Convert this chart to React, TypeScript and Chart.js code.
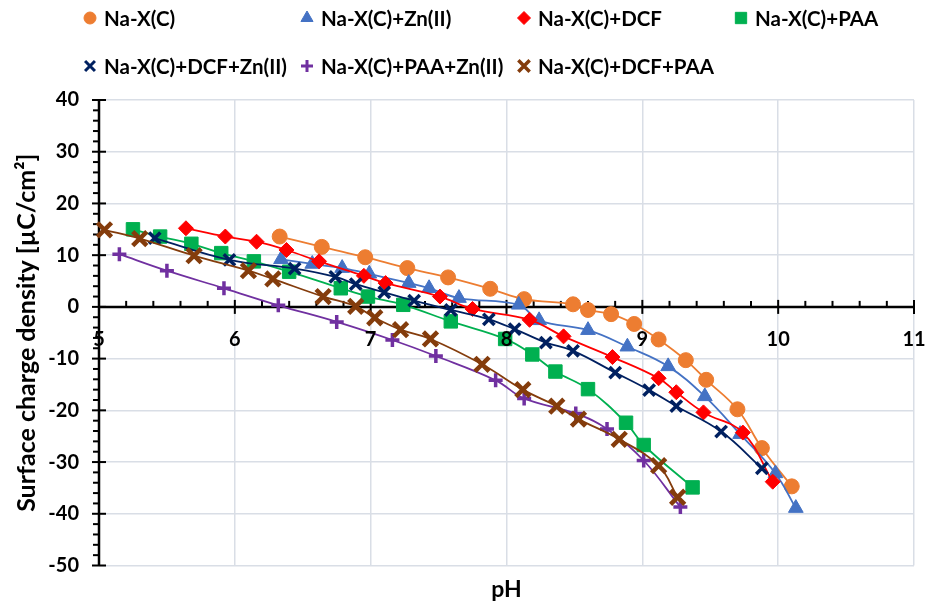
import { useEffect, useRef } from 'react';
import { Chart, registerables } from 'chart.js';
import { drawPoint } from 'chart.js/helpers';

Chart.register(...registerables);

const FONT = 'Lato, "Liberation Sans", sans-serif';

// Series names
const seriesLabels = [
  'Na-X(C)',
  'Na-X(C)+Zn(II)',
  'Na-X(C)+DCF',
  'Na-X(C)+PAA',
  'Na-X(C)+DCF+Zn(II)',
  'Na-X(C)+PAA+Zn(II)',
  'Na-X(C)+DCF+PAA',
];

// pH values and surface charge density (µC/cm²) of each series
const phNaX = [6.33, 6.64, 6.96, 7.27, 7.57, 7.88, 8.13, 8.49, 8.6, 8.77, 8.94, 9.12, 9.32, 9.47, 9.7, 9.88, 10.1];
const sigmaNaX = [13.6, 11.6, 9.6, 7.5, 5.7, 3.5, 1.5, 0.5, -0.6, -1.4, -3.3, -6.3, -10.3, -14.1, -19.8, -27.3, -34.7];

const phZn = [6.34, 6.57, 6.79, 6.99, 7.28, 7.43, 7.65, 8.09, 8.24, 8.6, 8.89, 9.19, 9.46, 9.72, 9.98, 10.13];
const sigmaZn = [9.2, 8.3, 7.5, 6.4, 4.6, 3.6, 1.7, 0.4, -2.6, -4.5, -7.7, -11.5, -17.3, -24.6, -32.2, -38.9];

const phDcf = [5.64, 5.93, 6.16, 6.38, 6.62, 6.95, 7.11, 7.51, 7.75, 8.17, 8.42, 8.78, 9.12, 9.25, 9.45, 9.74, 9.96];
const sigmaDcf = [15.2, 13.6, 12.6, 11.0, 8.8, 6.0, 4.6, 2.0, -0.4, -2.5, -5.7, -9.7, -13.8, -16.5, -20.4, -24.3, -33.8];

const phPaa = [5.25, 5.45, 5.68, 5.9, 6.14, 6.4, 6.78, 6.98, 7.24, 7.59, 7.99, 8.19, 8.36, 8.6, 8.88, 9.01, 9.37];
const sigmaPaa = [15.0, 13.6, 12.2, 10.4, 8.8, 6.8, 3.6, 2.0, 0.4, -2.8, -6.2, -9.2, -12.5, -15.9, -22.4, -26.7, -34.9];

const phDcfZn = [5.41, 5.96, 6.44, 6.74, 6.89, 7.1, 7.32, 7.59, 7.87, 8.06, 8.29, 8.49, 8.8, 9.05, 9.25, 9.58, 9.88];
const sigmaDcfZn = [13.3, 9.1, 7.4, 5.8, 4.4, 2.8, 1.2, -0.6, -2.4, -4.3, -6.9, -8.5, -12.7, -16.1, -19.2, -24.1, -31.2];

const phPaaZn = [5.15, 5.5, 5.92, 6.32, 6.75, 7.16, 7.48, 7.92, 8.13, 8.51, 8.74, 9.01, 9.28];
const sigmaPaaZn = [10.2, 7.0, 3.6, 0.3, -2.9, -6.4, -9.5, -14.2, -17.7, -20.6, -23.6, -29.7, -38.7];

const phDcfPaa = [5.04, 5.3, 5.7, 6.1, 6.28, 6.65, 6.89, 7.03, 7.22, 7.44, 7.82, 8.12, 8.37, 8.53, 8.83, 9.12, 9.26];
const sigmaDcfPaa = [14.9, 13.2, 9.9, 7.0, 5.4, 2.0, 0.1, -2.1, -4.4, -6.2, -11.1, -16.0, -19.2, -21.7, -25.6, -30.7, -36.8];

const seriesX = [phNaX, phZn, phDcf, phPaa, phDcfZn, phPaaZn, phDcfPaa];
const seriesY = [sigmaNaX, sigmaZn, sigmaDcf, sigmaPaa, sigmaDcfZn, sigmaPaaZn, sigmaDcfPaa];

// Axis ranges
const xMin = 5;
const xMax = 11;
const yMin = -50;
const yMax = 40;

// Marker look of each series (plot / legend)
const markers = [
  { color: '#ED7D31', style: 'circle', r: 7.5, bw: 1, lr: 6, lbw: 1 },
  { color: '#4472C4', style: 'triangle', r: 8.5, bw: 1, lr: 7, lbw: 1 },
  { color: '#FF0000', style: 'rectRot', r: 7.5, bw: 1, lr: 6.5, lbw: 1 },
  { color: '#00B050', style: 'rect', r: 9.5, bw: 1, lr: 8, lbw: 1 },
  { color: '#002060', style: 'crossRot', r: 8, bw: 3.5, lr: 7, lbw: 3 },
  { color: '#7030A0', style: 'cross', r: 7, bw: 3.5, lr: 6, lbw: 3 },
  { color: '#843C0C', style: 'crossRot', r: 10, bw: 4.5, lr: 8, lbw: 3.5 },
];

// Axis lines with major and minor tick marks
const axisPlugin = {
  id: 'axisLines',
  beforeDatasetsDraw(chart: any) {
    const { ctx, chartArea, scales } = chart;
    const xs = scales.x;
    const ys = scales.y;
    const y0 = ys.getPixelForValue(0);
    const left = chartArea.left;
    ctx.save();
    ctx.strokeStyle = '#000';
    ctx.lineWidth = 2;
    const xSteps = Math.round((xMax - xMin) / 0.2);
    for (let i = 0; i <= xSteps; i++) {
      const px = xs.getPixelForValue(xMin + i * 0.2);
      ctx.beginPath();
      if (i % 5 === 0) {
        ctx.moveTo(px, y0 - 7);
        ctx.lineTo(px, y0 + 7);
      } else {
        ctx.moveTo(px, y0 - 6);
        ctx.lineTo(px, y0);
      }
      ctx.stroke();
    }
    const ySteps = Math.round((yMax - yMin) / 2);
    for (let i = 0; i <= ySteps; i++) {
      const py = ys.getPixelForValue(yMin + i * 2);
      ctx.beginPath();
      if (i % 5 === 0) {
        ctx.moveTo(left - 7, py);
        ctx.lineTo(left + 7, py);
      } else {
        ctx.moveTo(left - 6, py);
        ctx.lineTo(left, py);
      }
      ctx.stroke();
    }
    ctx.lineWidth = 2.5;
    ctx.beginPath();
    ctx.moveTo(left, chartArea.top);
    ctx.lineTo(left, chartArea.bottom);
    ctx.moveTo(left, y0);
    ctx.lineTo(chartArea.right, y0);
    ctx.stroke();
    ctx.restore();
  },
};

// Legend laid out in fixed columns above the plot
const legendPlugin = {
  id: 'gridLegend',
  afterDraw(chart: any) {
    const ctx = chart.ctx;
    ctx.save();
    ctx.font = `bold 20.5px ${FONT}`;
    ctx.textBaseline = 'middle';
    ctx.textAlign = 'left';
    chart.data.datasets.forEach((ds: any, i: number) => {
      const m = markers[i];
      const col = i < 4 ? i : i - 4;
      const row = i < 4 ? 0 : 1;
      const mx = 90 + col * 217;
      const my = row === 0 ? 18 : 66;
      ctx.fillStyle = m.color;
      ctx.strokeStyle = m.color;
      ctx.lineWidth = m.lbw;
      drawPoint(ctx, { pointStyle: m.style as any, rotation: 0, radius: m.lr, borderWidth: m.lbw }, mx, my);
      ctx.fillStyle = '#000';
      ctx.fillText(ds.label, mx + 14, my + 1);
    });
    ctx.restore();
  },
};

export default function App() {
  const ref = useRef<HTMLCanvasElement>(null);

  useEffect(() => {
    document.body.style.margin = '0';
    const canvas = ref.current;
    if (!canvas) return;

    const n = seriesLabels.length;
    const datasets = seriesLabels.map((label, i) => {
      const m = markers[i];
      return {
        label,
        data: seriesX[i].map((x, k) => ({ x, y: seriesY[i][k] })),
        showLine: true,
        tension: 0.4,
        borderColor: m.color,
        backgroundColor: m.color,
        borderWidth: 1.8,
        pointStyle: m.style,
        pointRadius: m.r,
        pointBorderWidth: m.bw,
        pointBorderColor: m.color,
        pointBackgroundColor: m.color,
        order: n - 1 - i,
        clip: false as any,
      };
    });

    const chart = new Chart(canvas, {
      type: 'scatter',
      data: { datasets: datasets as any },
      options: {
        animation: false,
        responsive: false,
        devicePixelRatio: 1,
        layout: { padding: { top: 100, right: 18, left: 0, bottom: 0 } },
        plugins: {
          legend: { display: false },
          tooltip: { enabled: false },
          title: {
            display: true,
            text: 'pH',
            position: 'bottom',
            fullSize: false,
            color: '#000',
            font: { family: FONT, size: 23, weight: 'bold', lineHeight: 1.2 },
            padding: { top: 10.7, bottom: 0.2 },
          },
        },
        scales: {
          x: {
            type: 'linear',
            min: xMin,
            max: xMax,
            position: { y: 0 } as any,
            afterFit: (s: any) => {
              s.height = 0;
              s.paddingLeft = 0;
              s.paddingRight = 0;
            },
            grid: { color: '#d9dee6', lineWidth: 1.5, drawTicks: false },
            border: { display: false },
            ticks: {
              stepSize: 1,
              padding: 21,
              color: '#000',
              z: 1,
              font: { family: FONT, size: 20, weight: 'bold' },
            },
          },
          y: {
            type: 'linear',
            min: yMin,
            max: yMax,
            afterFit: (s: any) => {
              s.width = 99;
            },
            grid: { color: '#d9dee6', lineWidth: 1.5, drawTicks: false },
            border: { display: false },
            ticks: {
              stepSize: 10,
              padding: 20,
              color: '#000',
              font: { family: FONT, size: 20, weight: 'bold' },
            },
            title: {
              display: true,
              text: 'Surface charge density [µC/cm²]',
              color: '#000',
              font: { family: FONT, size: 25, weight: 'bold', lineHeight: 1.2 },
              padding: { top: 12, bottom: 0 },
            },
          },
        },
      },
      plugins: [axisPlugin, legendPlugin],
    });

    return () => chart.destroy();
  }, []);

  return (
    <div style={{ position: 'absolute', left: 0, top: 0, width: 932, height: 604, background: '#fff' }}>
      <canvas ref={ref} width={932} height={604} style={{ width: 932, height: 604 }} />
    </div>
  );
}
